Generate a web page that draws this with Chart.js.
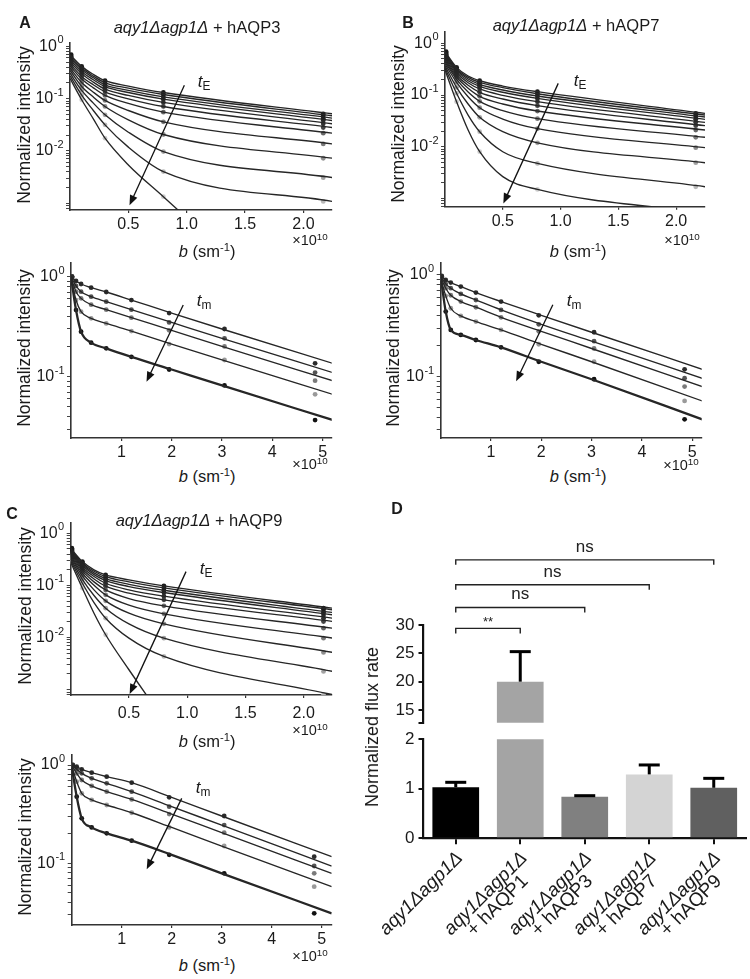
<!DOCTYPE html>
<html lang="en">
<head>
  <meta charset="UTF-8" />
  <title>Water exchange in aqy1Δagp1Δ yeast expressing human aquaporins</title>
  <script src="https://cdn.jsdelivr.net/npm/chart.js"></script>
  <style>
    body { margin: 0; background: #fff; font-family: "Liberation Sans", Arial, Helvetica, sans-serif; color: #1a1a1a; }
    #fig { position: relative; width: 750px; height: 979px; overflow: hidden; }
    canvas { position: absolute; }
    .t { position: absolute; transform: translate(-50%, -50%); white-space: nowrap; line-height: 1; }
    .rot { transform: translate(-50%, -50%) rotate(-90deg); }
    sup { font-size: 0.68em; vertical-align: 0.5em; line-height: 0; }
    sub { font-size: 0.7em; vertical-align: -0.3em; line-height: 0; }
  </style>
</head>
<body>
<div id="fig"></div>

<script>
  const bFitTE = [0, 0.1, 0.2, 0.3, 0.5, 0.8, 2.25];
  const bDotTE = [0.01, 0.1, 0.3, 0.8, 2.17];
  const dotIdxTE = [0, 1, 3, 5, 6];
  const bFitTM = [0, 0.1, 0.2, 0.4, 0.7, 1.2, 2, 3, 5.2];
  const bDotTM = [0.02, 0.1, 0.2, 0.4, 0.7, 1.2, 1.95, 3.05, 4.85];
  const dotIdxTM = [0, 1, 2, 3, 4, 5, 6, 7, 8];

  // normalized intensity, one row per exchange time tE (short -> long)
  const aqp3TE = [
    [0.692, 0.414, 0.291, 0.220, 0.174, 0.131, 0.0512],
    [0.643, 0.384, 0.270, 0.201, 0.159, 0.120, 0.0469],
    [0.597, 0.357, 0.251, 0.184, 0.144, 0.108, 0.0423],
    [0.555, 0.327, 0.230, 0.169, 0.131, 0.0978, 0.0381],
    [0.508, 0.299, 0.207, 0.152, 0.115, 0.0845, 0.0330],
    [0.465, 0.266, 0.184, 0.135, 0.0993, 0.0708, 0.0280],
    [0.426, 0.237, 0.161, 0.115, 0.0808, 0.0551, 0.0218],
    [0.384, 0.204, 0.133, 0.0923, 0.0593, 0.0360, 0.0136],
    [0.347, 0.171, 0.107, 0.0708, 0.0393, 0.0206, 0.00723],
    [0.308, 0.144, 0.0820, 0.0490, 0.0228, 0.0097, 0.00308],
    [0.274, 0.117, 0.0593, 0.0315, 0.0118, 0.00402, 0.00108],
    [0.244, 0.0951, 0.0410, 0.0175, 0.00539, 0.00133, 0.0000015]
  ];
  const aqp7TE = [
    [0.690, 0.343, 0.233, 0.189, 0.149, 0.116, 0.0442],
    [0.650, 0.323, 0.220, 0.176, 0.139, 0.106, 0.0410],
    [0.612, 0.305, 0.204, 0.161, 0.125, 0.0957, 0.0375],
    [0.577, 0.287, 0.189, 0.147, 0.113, 0.0861, 0.0338],
    [0.544, 0.267, 0.173, 0.131, 0.0986, 0.0743, 0.0296],
    [0.505, 0.244, 0.154, 0.113, 0.0837, 0.0622, 0.0255],
    [0.469, 0.223, 0.135, 0.0942, 0.0670, 0.0490, 0.0210],
    [0.435, 0.201, 0.114, 0.0754, 0.0498, 0.0348, 0.0152],
    [0.398, 0.176, 0.0929, 0.0569, 0.0343, 0.0223, 0.00957],
    [0.364, 0.141, 0.0670, 0.0370, 0.0195, 0.0119, 0.00490],
    [0.333, 0.108, 0.0410, 0.0195, 0.00800, 0.00475, 0.00168],
    [0.305, 0.0743, 0.0210, 0.00800, 0.00263, 0.00149, 0.000528]
  ];
  const aqp9TE = [
    [0.516, 0.287, 0.199, 0.159, 0.128, 0.0980, 0.0366],
    [0.494, 0.270, 0.187, 0.148, 0.117, 0.0897, 0.0340],
    [0.472, 0.255, 0.174, 0.135, 0.105, 0.0809, 0.0302],
    [0.452, 0.240, 0.161, 0.124, 0.0951, 0.0730, 0.0272],
    [0.433, 0.223, 0.148, 0.110, 0.0821, 0.0621, 0.0235],
    [0.414, 0.207, 0.133, 0.0966, 0.0709, 0.0528, 0.0203],
    [0.390, 0.190, 0.117, 0.0821, 0.0560, 0.0406, 0.0151],
    [0.368, 0.171, 0.101, 0.0659, 0.0418, 0.0285, 0.00974],
    [0.347, 0.152, 0.0821, 0.0506, 0.0293, 0.0183, 0.00518],
    [0.322, 0.131, 0.0640, 0.0366, 0.0183, 0.00974, 0.00224],
    [0.299, 0.110, 0.0470, 0.0235, 0.00974, 0.00434, 0.000800],
    [0.278, 0.0884, 0.0293, 0.0113, 0.00241, 0.000265, 9e-9]
  ];

  // normalized intensity, one row per mixing time tm (last row = thick curve)
  const aqp3TM = [
    [1.0, 0.905, 0.845, 0.776, 0.703, 0.584, 0.433, 0.300, 0.136],
    [1.0, 0.807, 0.708, 0.631, 0.562, 0.468, 0.349, 0.242, 0.110],
    [0.985, 0.708, 0.607, 0.525, 0.468, 0.389, 0.291, 0.201, 0.0912],
    [0.962, 0.584, 0.447, 0.383, 0.341, 0.286, 0.212, 0.147, 0.0666],
    [1.0, 0.464, 0.282, 0.219, 0.192, 0.158, 0.118, 0.0819, 0.0369]
  ];
  const aqp7TM = [
    [0.978, 0.893, 0.841, 0.768, 0.670, 0.547, 0.401, 0.273, 0.118],
    [0.963, 0.816, 0.740, 0.650, 0.567, 0.453, 0.327, 0.223, 0.0963],
    [0.948, 0.740, 0.631, 0.547, 0.481, 0.383, 0.279, 0.189, 0.0797],
    [0.927, 0.622, 0.470, 0.395, 0.348, 0.288, 0.208, 0.140, 0.0576],
    [0.963, 0.436, 0.288, 0.257, 0.229, 0.194, 0.140, 0.0942, 0.0380]
  ];
  const aqp9TM = [
    [1.0, 0.962, 0.904, 0.836, 0.761, 0.661, 0.469, 0.303, 0.117],
    [1.0, 0.904, 0.823, 0.732, 0.651, 0.536, 0.377, 0.245, 0.0939],
    [0.99, 0.823, 0.704, 0.612, 0.536, 0.447, 0.317, 0.205, 0.0791],
    [0.98, 0.677, 0.515, 0.441, 0.392, 0.327, 0.232, 0.150, 0.0579],
    [0.97, 0.476, 0.287, 0.232, 0.202, 0.170, 0.122, 0.0791, 0.0310]
  ];

  // tick labels
  const logTickVals = [1, 0.1, 0.01];
  const logTickExp = ['0', '-1', '-2'];
  const xTicksTE = [0.5, 1, 1.5, 2];
  const xTextTE = ['0.5', '1.0', '1.5', '2.0'];
  const xTicksTM = [1, 2, 3, 4, 5];
  const xTextTM = ['1', '2', '3', '4', '5'];

  // panel D
  const groups = [
    ['aqy1Δagp1Δ'],
    ['aqy1Δagp1Δ', '+ hAQP1'],
    ['aqy1Δagp1Δ', '+ hAQP3'],
    ['aqy1Δagp1Δ', '+ hAQP7'],
    ['aqy1Δagp1Δ', '+ hAQP9']
  ];
  const fluxRate = [1.03, 20.0, 0.84, 1.29, 1.02];
  const fluxSD = [0.10, 5.3, 0.02, 0.19, 0.19];
  const sigPairs = [[0, 1, '**'], [0, 2, 'ns'], [0, 3, 'ns'], [0, 4, 'ns']];
  const fluxTicksHigh = [15, 20, 25, 30];
  const fluxTicksLow = [0, 1, 2];

  const teDotColors = ['#1a1a1a', '#1a1a1a', '#222', '#2a2a2a', '#333', '#444',
                       '#666', '#7a7a7a', '#8e8e8e', '#a3a3a3', '#b8b8b8', '#cccccc'];
  const tmDotColors = ['#2b2b2b', '#555', '#7a7a7a', '#9a9a9a', '#111'];
  const barColors = ['#000000', '#a4a4a4', '#808080', '#d4d4d4', '#606060'];

  const FONT = '"Liberation Sans", Arial, Helvetica, sans-serif';
  Chart.defaults.font.family = FONT;
  Chart.defaults.color = '#1a1a1a';

  const fig = document.getElementById('fig');

  function addCanvas(box) {
    const c = document.createElement('canvas');
    c.width = box.w;
    c.height = box.h;
    c.style.left = box.left + 'px';
    c.style.top = box.top + 'px';
    c.style.width = box.w + 'px';
    c.style.height = box.h + 'px';
    fig.appendChild(c);
    return c;
  }

  function addText(html, x, y, size, extra) {
    const d = document.createElement('div');
    d.className = 't' + (extra && extra.rot ? ' rot' : '');
    d.style.left = x + 'px';
    d.style.top = y + 'px';
    d.style.fontSize = size + 'px';
    if (extra && extra.bold) d.style.fontWeight = 'bold';
    d.innerHTML = html;
    fig.appendChild(d);
  }

  function logTicks(min, max) {
    const out = [];
    for (let k = Math.floor(Math.log10(min)); k <= 0; k++) {
      for (let m = 1; m <= 9; m++) {
        const v = m * Math.pow(10, k);
        if (v >= min && v <= max) out.push({ value: v });
      }
    }
    return out;
  }

  const arrowPlugin = {
    id: 'arrow',
    afterDatasetsDraw(chart, args, o) {
      const { ctx, scales: { x, y } } = chart;
      const x1 = x.getPixelForValue(o.from[0]), y1 = y.getPixelForValue(o.from[1]);
      const x2 = x.getPixelForValue(o.to[0]), y2 = y.getPixelForValue(o.to[1]);
      const a = Math.atan2(y2 - y1, x2 - x1), c = Math.cos(a), s = Math.sin(a);
      ctx.save();
      ctx.strokeStyle = ctx.fillStyle = '#111';
      ctx.lineWidth = 1.3;
      ctx.beginPath();
      ctx.moveTo(x1, y1);
      ctx.lineTo(x2 - 8 * c, y2 - 8 * s);
      ctx.stroke();
      ctx.beginPath();
      ctx.moveTo(x2, y2);
      ctx.lineTo(x2 - 10 * c + 4 * s, y2 - 10 * s - 4 * c);
      ctx.lineTo(x2 - 10 * c - 4 * s, y2 - 10 * s + 4 * c);
      ctx.closePath();
      ctx.fill();
      ctx.restore();
    }
  };

  // "10" with a raised exponent for the log axis decades
  const expLabelPlugin = {
    id: 'expLabels',
    afterDraw(chart) {
      const { ctx, chartArea: ca, scales: { y } } = chart;
      ctx.save();
      ctx.fillStyle = '#1a1a1a';
      ctx.textBaseline = 'middle';
      ctx.textAlign = 'left';
      logTickVals.forEach((v, i) => {
        if (v < y.min || v > y.max) return;
        const py = y.getPixelForValue(v);
        ctx.font = '16px ' + FONT;
        const wb = ctx.measureText('10').width;
        ctx.font = '11px ' + FONT;
        const we = ctx.measureText(logTickExp[i]).width;
        const x0 = ca.left - 7 - wb - we;
        ctx.font = '16px ' + FONT;
        ctx.fillText('10', x0, py);
        ctx.font = '11px ' + FONT;
        ctx.fillText(logTickExp[i], x0 + wb + 0.5, py - 6);
      });
      ctx.restore();
    }
  };

  function lineChart(p) {
    const cv = addCanvas(p.box);
    const yW = p.area.l - p.box.left;
    const xH = p.box.top + p.box.h - p.area.b;
    const datasets = [];
    p.rows.forEach((row, i) => {
      datasets.push({
        data: p.bFit.map((b, k) => ({ x: b, y: row[k] })),
        showLine: true,
        pointRadius: 0,
        borderColor: '#262626',
        borderWidth: i === p.thick ? 2.3 : 1.35,
        cubicInterpolationMode: 'monotone'
      });
    });
    p.rows.forEach((row, i) => {
      datasets.push({
        data: p.bDot.map((b, j) => ({ x: b, y: row[p.dotIdx[j]] })),
        showLine: false,
        pointRadius: 2.4,
        pointBackgroundColor: p.dotColors[i],
        pointBorderWidth: 0
      });
    });
    new Chart(cv, {
      type: 'scatter',
      data: { datasets },
      options: {
        responsive: false,
        animation: false,
        devicePixelRatio: 1,
        layout: { padding: { top: p.area.t - p.box.top, right: p.box.left + p.box.w - p.area.r, bottom: 0, left: 0 } },
        plugins: {
          legend: { display: false },
          tooltip: { enabled: false },
          arrow: { from: p.arrow[0], to: p.arrow[1] }
        },
        scales: {
          x: {
            type: 'linear',
            min: 0,
            max: p.xMax,
            afterFit: s => { s.height = xH; },
            afterBuildTicks: s => { s.ticks = p.xTicks.map(v => ({ value: v })); },
            ticks: {
              callback: v => { const j = p.xTicks.indexOf(v); return j < 0 ? '' : p.xText[j]; },
              font: { size: 16 }, color: '#1a1a1a', padding: p.xPad, maxRotation: 0, autoSkip: false
            },
            grid: { display: true, drawOnChartArea: false, drawTicks: true, tickLength: 3, color: '#333', lineWidth: 1.2 },
            border: { display: true, color: '#333', width: 1.6 }
          },
          y: {
            type: 'logarithmic',
            min: p.yMin,
            max: p.yMax,
            afterFit: s => { s.width = yW; },
            afterBuildTicks: s => { s.ticks = logTicks(p.yMin, p.yMax); },
            ticks: { callback: () => '', font: { size: 16 }, padding: 3, autoSkip: false },
            grid: { display: true, drawOnChartArea: false, drawTicks: true, tickLength: 4, color: '#444', lineWidth: 1 },
            border: { display: true, color: '#333', width: 1.6 }
          }
        }
      },
      plugins: [arrowPlugin, expLabelPlugin]
    });
  }

  // --- panels A, B, C ---
  const tePanel = { bFit: bFitTE, bDot: bDotTE, dotIdx: dotIdxTE, dotColors: teDotColors, thick: -1, xTicks: xTicksTE, xText: xTextTE };
  const tmPanel = { bFit: bFitTM, bDot: bDotTM, dotIdx: dotIdxTM, dotColors: tmDotColors, thick: 4, xTicks: xTicksTM, xText: xTextTM, xPad: 2 };

  lineChart(Object.assign({}, tePanel, {
    rows: aqp3TE, box: { left: 0, top: 28, w: 345, h: 205 }, area: { l: 70, r: 332, t: 43, b: 210 },
    xMax: 2.245, yMin: 7.4e-4, yMax: 1.16, xPad: 2, arrow: [[0.98, 0.18], [0.51, 9.1e-4]]
  }));
  lineChart(Object.assign({}, tmPanel, {
    rows: aqp3TM, box: { left: 0, top: 248, w: 345, h: 215 }, area: { l: 71, r: 331.7, t: 263, b: 438 },
    xMax: 5.18, yMin: 0.0244, yMax: 1.37, arrow: [[2.23, 0.52], [1.5, 0.089]]
  }));
  lineChart(Object.assign({}, tePanel, {
    rows: aqp7TE, box: { left: 370, top: 18, w: 380, h: 213 }, area: { l: 445, r: 705, t: 31.7, b: 206.7 },
    xMax: 2.25, yMin: 6.9e-4, yMax: 1.68, xPad: 2, arrow: [[0.98, 0.168], [0.505, 8.0e-4]]
  }));
  lineChart(Object.assign({}, tmPanel, {
    rows: aqp7TM, box: { left: 370, top: 248, w: 380, h: 215 }, area: { l: 440.7, r: 701.7, t: 263, b: 438 },
    xMax: 5.19, yMin: 0.0249, yMax: 1.31, arrow: [[2.23, 0.51], [1.5, 0.09]]
  }));
  lineChart(Object.assign({}, tePanel, {
    rows: aqp9TE, box: { left: 0, top: 508, w: 345, h: 214 }, area: { l: 70.7, r: 332, t: 523, b: 695 },
    xMax: 2.243, yMin: 7.9e-4, yMax: 1.575, xPad: 6, arrow: [[0.99, 0.184], [0.506, 8.3e-4]]
  }));
  lineChart(Object.assign({}, tmPanel, {
    rows: aqp9TM, box: { left: 0, top: 740, w: 345, h: 212 }, area: { l: 71.7, r: 331.7, t: 755, b: 925 },
    xMax: 5.2, yMin: 0.0236, yMax: 1.264, arrow: [[2.2, 0.458], [1.5, 0.087]]
  }));

  // --- panel D: broken-axis bar chart ---
  const errPlugin = {
    id: 'errbars',
    afterDatasetsDraw(chart) {
      const { ctx, chartArea: ca, scales: { x, y } } = chart;
      ctx.save();
      ctx.strokeStyle = '#000';
      ctx.lineWidth = 3;
      fluxRate.forEach((v, i) => {
        const hi = v + fluxSD[i];
        if (v > y.max || hi < y.min) return;
        const cx = x.getPixelForValue(i);
        const y0 = Math.min(y.getPixelForValue(Math.max(v, y.min)), ca.bottom);
        const y1 = y.getPixelForValue(Math.min(hi, y.max));
        ctx.beginPath();
        ctx.moveTo(cx, y0);
        ctx.lineTo(cx, y1);
        ctx.stroke();
        if (hi <= y.max) {
          ctx.beginPath();
          ctx.moveTo(cx - 10.5, y1);
          ctx.lineTo(cx + 10.5, y1);
          ctx.stroke();
        }
      });
      ctx.restore();
    }
  };

  const bracketPlugin = {
    id: 'brackets',
    afterDraw(chart, args, o) {
      const { ctx, scales: { x, y } } = chart;
      ctx.save();
      ctx.strokeStyle = ctx.fillStyle = '#222';
      ctx.lineWidth = 1.4;
      ctx.textAlign = 'center';
      ctx.textBaseline = 'alphabetic';
      sigPairs.forEach(([a, b, txt], k) => {
        const yy = y.getPixelForValue(o.levels[k]);
        const xa = x.getPixelForValue(a), xb = x.getPixelForValue(b);
        ctx.beginPath();
        ctx.moveTo(xa, yy + 5);
        ctx.lineTo(xa, yy);
        ctx.lineTo(xb, yy);
        ctx.lineTo(xb, yy + 5);
        ctx.stroke();
        if (txt === '**') {
          ctx.font = '13px ' + FONT;
          ctx.fillText(txt, (xa + xb) / 2, yy - 2);
        } else {
          ctx.font = '17px ' + FONT;
          ctx.fillText(txt, (xa + xb) / 2, yy - 8);
        }
      });
      ctx.restore();
    }
  };

  const catLabelPlugin = {
    id: 'catLabels',
    afterDraw(chart) {
      const { ctx, scales: { x } } = chart;
      ctx.save();
      ctx.fillStyle = '#1a1a1a';
      ctx.textAlign = 'center';
      ctx.textBaseline = 'middle';
      groups.forEach((lines, i) => {
        const cx = x.getPixelForValue(i);
        ctx.save();
        ctx.translate(cx + 4, x.top + 17);
        ctx.rotate(-Math.PI / 4);
        ctx.font = 'italic 19px ' + FONT;
        const w0 = ctx.measureText(lines[0]).width;
        lines.forEach((ln, k) => {
          ctx.font = (k === 0 ? 'italic ' : '') + '19px ' + FONT;
          ctx.fillText(ln, -w0 / 2, k * 17);
        });
        ctx.restore();
      });
      ctx.restore();
    }
  };

  function fluxY(min, max, ticks, yW) {
    return {
      min, max,
      afterFit: s => { s.width = yW; },
      afterBuildTicks: s => { s.ticks = [min].concat(ticks).filter((v, i, arr) => arr.indexOf(v) === i).map(v => ({ value: v })); },
      ticks: { callback: v => ticks.includes(v) ? String(v) : '', font: { size: 17 }, color: '#1a1a1a', padding: 4, autoSkip: false },
      grid: { display: true, drawOnChartArea: false, drawTicks: true, tickLength: 5, color: '#111', lineWidth: 2 },
      border: { display: true, color: '#111', width: 2.2 }
    };
  }

  const barData = () => ({
    labels: groups,
    datasets: [{ data: fluxRate, backgroundColor: barColors, borderWidth: 0, barPercentage: 0.724, categoryPercentage: 1 }]
  });

  const highBox = { left: 370, top: 540, w: 380, h: 200 };
  new Chart(addCanvas(highBox), {
    type: 'bar',
    data: barData(),
    options: {
      responsive: false, animation: false, devicePixelRatio: 1,
      layout: { padding: { top: 85, right: 4, bottom: 740 - 722.7, left: 0 } },
      plugins: { legend: { display: false }, tooltip: { enabled: false }, brackets: { levels: [29.4, 33.1, 37.1, 41.5] } },
      scales: {
        x: { display: false, offset: true },
        y: fluxY(12.76, 30, fluxTicksHigh, 53.5)
      }
    },
    plugins: [errPlugin, bracketPlugin]
  });

  const lowBox = { left: 370, top: 725, w: 380, h: 254 };
  new Chart(addCanvas(lowBox), {
    type: 'bar',
    data: barData(),
    options: {
      responsive: false, animation: false, devicePixelRatio: 1,
      layout: { padding: { top: 738.3 - 725, right: 4, bottom: 979 - 838.3 - 8, left: 0 } },
      plugins: { legend: { display: false }, tooltip: { enabled: false } },
      scales: {
        x: {
          offset: true,
          afterFit: s => { s.height = 8; },
          ticks: { display: false },
          grid: { display: true, offset: false, drawOnChartArea: false, drawTicks: true, tickLength: 6, color: '#111', lineWidth: 2 },
          border: { display: true, color: '#111', width: 2.2 }
        },
        y: fluxY(0, 2, fluxTicksLow, 53.5)
      }
    },
    plugins: [errPlugin, catLabelPlugin]
  });

  // --- text ---
  const intensity = 'Normalized intensity';
  const bLabel = '<i>b</i> (sm<sup>-1</sup>)';
  const times10 = '×10<sup>10</sup>';

  addText('A', 25, 23, 16, { bold: true });
  addText('B', 408, 23, 16, { bold: true });
  addText('C', 12, 514, 16, { bold: true });
  addText('D', 397, 509, 16, { bold: true });

  addText('<i>aqy1Δagp1Δ</i> + hAQP3', 197, 27, 16.5);
  addText('<i>aqy1Δagp1Δ</i> + hAQP7', 576, 25, 16.5);
  addText('<i>aqy1Δagp1Δ</i> + hAQP9', 199, 520, 16.5);

  addText(intensity, 25, 125, 17.5, { rot: true });
  addText(intensity, 25, 348, 17.5, { rot: true });
  addText(intensity, 399, 124, 17.5, { rot: true });
  addText(intensity, 394, 348, 17.5, { rot: true });
  addText(intensity, 25.5, 606, 17.5, { rot: true });
  addText(intensity, 25.5, 837, 17.5, { rot: true });
  addText('Normalized flux rate', 372, 727, 18, { rot: true });

  addText(bLabel, 207, 251, 16.5);
  addText(bLabel, 207, 476, 16.5);
  addText(bLabel, 578, 251, 16.5);
  addText(bLabel, 578, 476, 16.5);
  addText(bLabel, 207, 741, 16.5);
  addText(bLabel, 207, 965, 16.5);

  addText(times10, 310, 240, 14.5);
  addText(times10, 310, 464, 14.5);
  addText(times10, 682, 240, 14.5);
  addText(times10, 681, 465, 14.5);
  addText(times10, 310, 730, 14.5);
  addText(times10, 310, 956, 14.5);

  addText('<i>t</i><sub>E</sub>', 204, 81, 17);
  addText('<i>t</i><sub>E</sub>', 580, 80, 17);
  addText('<i>t</i><sub>E</sub>', 206, 568, 17);
  addText('<i>t</i><sub>m</sub>', 204, 300, 17);
  addText('<i>t</i><sub>m</sub>', 574, 300, 17);
  addText('<i>t</i><sub>m</sub>', 203, 787, 17);
</script>
</body>
</html>
